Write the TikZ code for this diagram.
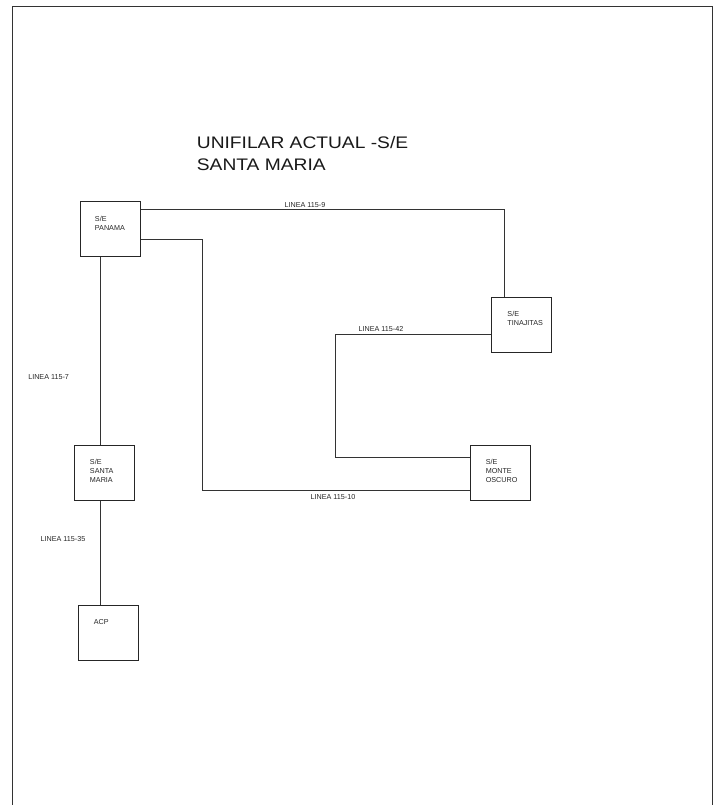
\documentclass[tikz,border=0pt]{standalone}
\usepackage{fontspec}
\setmainfont{Liberation Sans}
\newfontfamily\titlefont[FakeStretch=1.15]{Liberation Sans}
\begin{document}
\begin{tikzpicture}[x=1pt,y=-1pt,
  sub/.style={draw=black!85,line width=0.9pt,minimum width=60pt,minimum height=55pt,inner sep=0pt},
  wire/.style={draw=black!80,line width=0.9pt},
  frame/.style={draw=black!80,line width=1pt},
  boxtxt/.style={anchor=base west,align=left,inner sep=0pt,font=\fontsize{7.2}{9}\selectfont,text=black!85},
  lbl/.style={anchor=base,inner sep=0pt,font=\fontsize{7.2}{9}\selectfont,text=black!85},
  ttl/.style={anchor=base west,align=left,inner sep=0pt,font=\titlefont\fontsize{16.7}{22}\selectfont,text=black!90}]
\useasboundingbox (0,0) rectangle (715,805);
\coordinate (fbl) at (12,806);
\coordinate (ftl) at (12,7);
\coordinate (ftr) at (712,7);
\coordinate (fbr) at (712,806);
\draw[frame] (fbl) -- (ftl) -- (ftr) -- (fbr);

\node[ttl] (title) at (196.7,170.4) {UNIFILAR ACTUAL -S/E\\SANTA MARIA};

\node[sub] (pan) at (110.7,229.2) {};
\node[sub] (tin) at (521.7,324.8) {};
\node[sub] (mon) at (500,473.2) {};
\node[sub] (sma) at (104.2,473.3) {};
\node[sub] (acp) at (108.3,633) {};

\node[boxtxt] (pant) at ([xshift=14.5pt,yshift=-29pt]pan.north west) {S/E\\PANAMA};
\node[boxtxt] (tint) at ([xshift=16pt,yshift=-28.3pt]tin.north west) {S/E\\TINAJITAS};
\node[boxtxt] (mont) at ([xshift=16pt,yshift=-37.5pt]mon.north west) {S/E\\MONTE\\OSCURO};
\node[boxtxt] (smat) at ([xshift=16pt,yshift=-37.6pt]sma.north west) {S/E\\SANTA\\MARIA};
\node[boxtxt] (acpt) at ([xshift=15.7pt,yshift=-19.5pt]acp.north west) {ACP};

% connectors
\coordinate (c9) at (504,209);
\draw[wire] (pan.east |- c9) -- (c9) -- (c9 |- tin.north);
\coordinate (c10a) at (202,239);
\coordinate (c10b) at (202,490.7);
\draw[wire] (pan.east |- c10a) -- (c10a) -- (c10b) -- (c10b -| mon.west);
\coordinate (c42a) at (335,334);
\coordinate (c42b) at (335,457.3);
\draw[wire] (tin.west |- c42a) -- (c42a) -- (c42b) -- (c42b -| mon.west);
\coordinate (c7) at (100.7,0);
\draw[wire] (c7 |- pan.south) -- (c7 |- sma.north);
\draw[wire] (c7 |- sma.south) -- (c7 |- acp.north);

% labels
\node[lbl] (l9) at (305,207.3) {LINEA 115-9};
\node[lbl] (l42) at (381,331.5) {LINEA 115-42};
\node[lbl] (l10) at (333,499) {LINEA 115-10};
\node[lbl] (l7) at (48.6,379) {LINEA 115-7};
\node[lbl] (l35) at (63,541) {LINEA 115-35};
\end{tikzpicture}
\end{document}
